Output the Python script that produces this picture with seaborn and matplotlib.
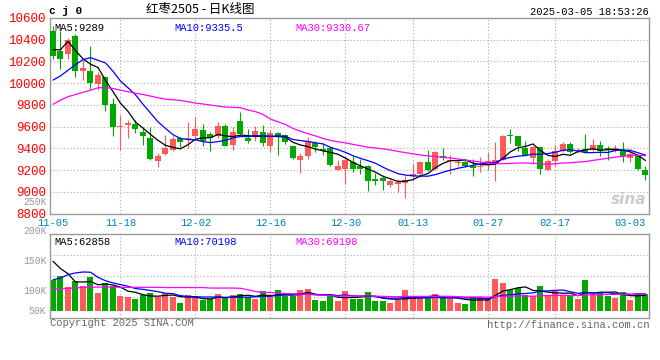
import numpy as np
import pandas as pd
import seaborn as sns
import matplotlib.pyplot as plt

# daily K data for cj0 (jujube 2505), 2024-11-05 .. 2025-03-05
opens = [10480, 10293, 10266, 10430, 10113, 10113, 9994, 10058, 9808, 9597,
         9618, 9624, 9554, 9496, 9280, 9347, 9386, 9496, 9484, 9518,
         9570, 9533, 9518, 9606, 9435, 9652, 9493, 9505, 9551, 9417,
         9542, 9524, 9423, 9289, 9325, 9448, 9396, 9402, 9203, 9213,
         9270, 9234, 9240, 9121, 9130, 9066, 9072, 9081, 9145, 9167,
         9270, 9213, 9331, 9280, 9261, 9270, 9240, 9228, 9249, 9264,
         9295, 9524, 9515, 9402, 9310, 9408, 9203, 9286, 9377, 9441,
         9371, 9396, 9387, 9432, 9402, 9371, 9371, 9310, 9325, 9203]
highs = [10530, 10476, 10418, 10449, 10217, 10339, 10104, 10067, 9866, 9707,
         9661, 9658, 9600, 9597, 9356, 9524, 9518, 9508, 9646, 9692,
         9624, 9548, 9646, 9621, 9600, 9737, 9579, 9606, 9615, 9570,
         9548, 9533, 9426, 9356, 9502, 9469, 9448, 9411, 9295, 9325,
         9325, 9301, 9249, 9170, 9157, 9118, 9118, 9148, 9258, 9286,
         9386, 9371, 9402, 9341, 9289, 9289, 9304, 9319, 9362, 9454,
         9524, 9579, 9518, 9469, 9417, 9411, 9304, 9432, 9454, 9454,
         9402, 9533, 9484, 9469, 9417, 9432, 9454, 9365, 9331, 9234]
lows = [10226, 10134, 10226, 10058, 10028, 9945, 9936, 9747, 9515, 9386,
        9499, 9539, 9432, 9295, 9225, 9341, 9371, 9408, 9402, 9493,
        9417, 9371, 9493, 9417, 9386, 9509, 9447, 9463, 9417, 9365,
        9335, 9438, 9301, 9170, 9298, 9365, 9335, 9234, 9197, 9072,
        9179, 9160, 9005, 9066, 9020, 9041, 8996, 8944, 9127, 9133,
        9188, 9200, 9289, 9167, 9234, 9228, 9142, 9182, 9203, 9096,
        9289, 9447, 9371, 9335, 9258, 9167, 9197, 9234, 9362, 9356,
        9356, 9356, 9371, 9325, 9295, 9362, 9270, 9270, 9203, 9105]
closes = [10250, 10223, 10394, 10113, 10140, 10003, 10073, 9799, 9594, 9606,
          9631, 9582, 9518, 9304, 9331, 9402, 9487, 9454, 9496, 9582,
          9463, 9493, 9606, 9426, 9551, 9533, 9469, 9560, 9451, 9542,
          9518, 9454, 9310, 9331, 9463, 9408, 9371, 9243, 9240, 9289,
          9209, 9213, 9096, 9096, 9096, 9096, 9090, 9112, 9164, 9270,
          9203, 9362, 9310, 9289, 9270, 9234, 9218, 9240, 9280, 9295,
          9518, 9509, 9426, 9341, 9408, 9213, 9286, 9377, 9441, 9362,
          9387, 9362, 9432, 9371, 9387, 9402, 9325, 9350, 9213, 9151]
# volume in thousands
volumes = [127, 141, 97, 121, 103, 138, 73, 114, 100, 59,
           56, 48, 66, 73, 55, 73, 55, 32, 66, 52,
           42, 48, 69, 56, 66, 69, 56, 48, 81, 56,
           85, 59, 59, 86, 89, 45, 41, 59, 41, 82,
           49, 49, 77, 41, 41, 32, 45, 85, 52, 52,
           52, 69, 52, 52, 32, 27, 55, 55, 49, 130,
           114, 85, 93, 66, 59, 101, 62, 79, 59, 59,
           49, 126, 69, 77, 59, 52, 77, 44, 73, 69]

# moving averages before enough days are on the chart
ma5_head = [10308, 10308, 10385, 10300]
ma10_head = [10028, 10067, 10119, 10171, 10217, 10235, 10211, 10186, 10110]
ma30_head = [9805, 9844, 9875, 9896, 9915, 9936, 9957, 9960, 9951, 9936,
             9921, 9908, 9896, 9881, 9866, 9853, 9847, 9841, 9829, 9817,
             9808, 9799, 9789, 9780, 9777, 9774, 9753, 9738, 9713]
vma5_head = [203, 173, 152, 118]
vma10_head = [127, 134, 148, 155, 159, 158, 137, 123, 114]
vma30_head = [89, 90, 92, 93, 96, 96, 97, 97, 97, 96,
              96, 96, 96, 96, 96, 95, 95, 95, 95, 95,
              95, 93, 93, 93, 93, 92, 86, 79, 75]

tick_pos = [0, 9, 19, 29, 39, 48, 58, 67, 77]
tick_labels = ['11-05', '11-18', '12-02', '12-16', '12-30', '01-13', '01-27', '02-17', '03-03']
grid_pos = tick_pos[1:-1]
price_ticks = list(range(8800, 10601, 200))
vol_labels = ['250K', '200K', '150K', '100K', '50K']

RED = '#FF5A5A'
GREEN = '#00A800'
GRID = '#AAAAAA'
BORDER = '#999999'
MONO = 'Liberation Mono'


def moving(values, n, head):
    s = pd.Series(values, dtype=float).rolling(n).mean()
    s.iloc[:len(head)] = head
    return s.values


def fpos(x, y):
    # pixel position -> figure fraction
    return x / 660, 1 - y / 360


sns.set_style('white')
plt.rcParams['font.family'] = [MONO, 'DejaVu Sans']

fig = plt.figure(figsize=(6.6, 3.6), dpi=100)
ax = fig.add_axes([50 / 660, 1 - 213.5 / 360, 599 / 660, 195.5 / 360])
axv = fig.add_axes([50 / 660, 1 - 318 / 360, 599 / 660, 84 / 360])

idx = np.arange(len(closes))
o = np.array(opens, dtype=float)
c = np.array(closes, dtype=float)
up = c >= o
colors = np.where(up, RED, GREEN)

# --- price panel
for y in price_ticks[1:-1]:
    ax.axhline(y, color=GRID, lw=0.8, ls=(0, (1, 2)), zorder=1)
for x in grid_pos:
    ax.axvline(x, color=GRID, lw=0.8, ls=(0, (1, 2)), zorder=1)

ax.vlines(idx, lows, highs, colors=colors, lw=0.8, zorder=3)
ax.bar(idx, np.maximum(np.abs(c - o), 9), bottom=np.minimum(o, c),
       width=0.8, color=colors, linewidth=0, zorder=4)

sns.lineplot(x=idx, y=moving(closes, 5, ma5_head), color='black', lw=0.9, ax=ax, zorder=5)
sns.lineplot(x=idx, y=moving(closes, 10, ma10_head), color='#0000FF', lw=0.9, ax=ax, zorder=5)
sns.lineplot(x=idx, y=moving(closes, 30, ma30_head), color='#FF00FF', lw=0.9, ax=ax, zorder=5)

ax.set_xlim(-0.4, 79.47)
ax.set_ylim(8800, 10600)
ax.set_yticks(price_ticks)
ax.set_yticklabels([str(p) for p in price_ticks], color='#FF0000', fontsize=9, family=MONO)
ax.set_xticks(tick_pos)
ax.set_xticklabels(tick_labels, color='#0080C0', fontsize=7.6, family=MONO)
ax.tick_params(axis='both', length=0)
ax.tick_params(axis='y', pad=3)
ax.tick_params(axis='x', pad=3.5)
ax.set_xlabel('')
ax.set_ylabel('')
for sp in ax.spines.values():
    sp.set_color(BORDER)
    sp.set_linewidth(1.0)

ax.text(0.007, 0.975, 'MA5:9289', transform=ax.transAxes, color='black', fontsize=7.6, va='top', ha='left')
ax.text(0.208, 0.975, 'MA10:9335.5', transform=ax.transAxes, color='#0000FF', fontsize=7.6, va='top', ha='left')
ax.text(0.410, 0.975, 'MA30:9330.67', transform=ax.transAxes, color='#FF00FF', fontsize=7.6, va='top', ha='left')
ax.text(0.995, 0.035, 'sina', transform=ax.transAxes, color='#CCCCCC', fontsize=11,
        fontweight='bold', fontstyle='italic', family='DejaVu Sans', ha='right', va='bottom')

# --- volume panel
vol_df = pd.DataFrame({'day': idx, 'vol': volumes, 'dir': np.where(up, 'up', 'down')})
vlo, vhi = -30, 315
for f in (0.25, 0.5, 0.75):
    axv.axhline(vlo + (vhi - vlo) * f, color=GRID, lw=0.8, ls=(0, (1, 2)), zorder=0)
for x in grid_pos:
    axv.axvline(x, color=GRID, lw=0.8, ls=(0, (1, 2)), zorder=0)

sns.barplot(data=vol_df, x='day', y='vol', hue='dir', palette={'up': RED, 'down': GREEN},
            dodge=False, width=0.8, saturation=1, legend=False, linewidth=0, ax=axv, zorder=2)
sns.lineplot(x=idx, y=moving(volumes, 5, vma5_head), color='black', lw=0.9, ax=axv, zorder=5)
sns.lineplot(x=idx, y=moving(volumes, 10, vma10_head), color='#0000FF', lw=0.9, ax=axv, zorder=5)
sns.lineplot(x=idx, y=moving(volumes, 30, vma30_head), color='#FF00FF', lw=0.9, ax=axv, zorder=5)

axv.set_xlim(-0.4, 79.47)
axv.set_ylim(vlo, vhi)
axv.set_xticks([])
axv.set_yticks([])
axv.set_xlabel('')
axv.set_ylabel('')
for sp in axv.spines.values():
    sp.set_color(BORDER)
    sp.set_linewidth(1.0)

axv.text(0.007, 0.965, 'MA5:62858', transform=axv.transAxes, color='black', fontsize=7.6, va='top', ha='left')
axv.text(0.208, 0.965, 'MA10:70198', transform=axv.transAxes, color='#0000FF', fontsize=7.6, va='top', ha='left')
axv.text(0.410, 0.965, 'MA30:69198', transform=axv.transAxes, color='#FF00FF', fontsize=7.6, va='top', ha='left')

for lab, ypx in zip(vol_labels, [202, 231, 261, 291, 311]):
    fig.text(*fpos(46.5, ypx), lab, color='#999999', fontsize=7, ha='right', va='center')

# --- header and footer
fig.text(*fpos(49, 11), 'c j 0', color='black', fontsize=8, fontweight='bold', ha='left', va='center')
fig.text(*fpos(200, 10), '红枣2505 - 日K线图', color='black', fontsize=9,
         family=['Noto Sans CJK SC', 'DejaVu Sans'], ha='center', va='center')
fig.text(*fpos(649, 12), '2025-03-05 18:53:26', color='black', fontsize=7.6, ha='right', va='center')
fig.text(*fpos(50, 323.5), 'Copyright 2025 SINA.COM', color='#666666', fontsize=7.6, ha='left', va='center')
fig.text(*fpos(649, 324.5), 'http://finance.sina.com.cn', color='#666666', fontsize=7.6, ha='right', va='center')

fig.savefig('out.png', dpi=100, facecolor='white')
